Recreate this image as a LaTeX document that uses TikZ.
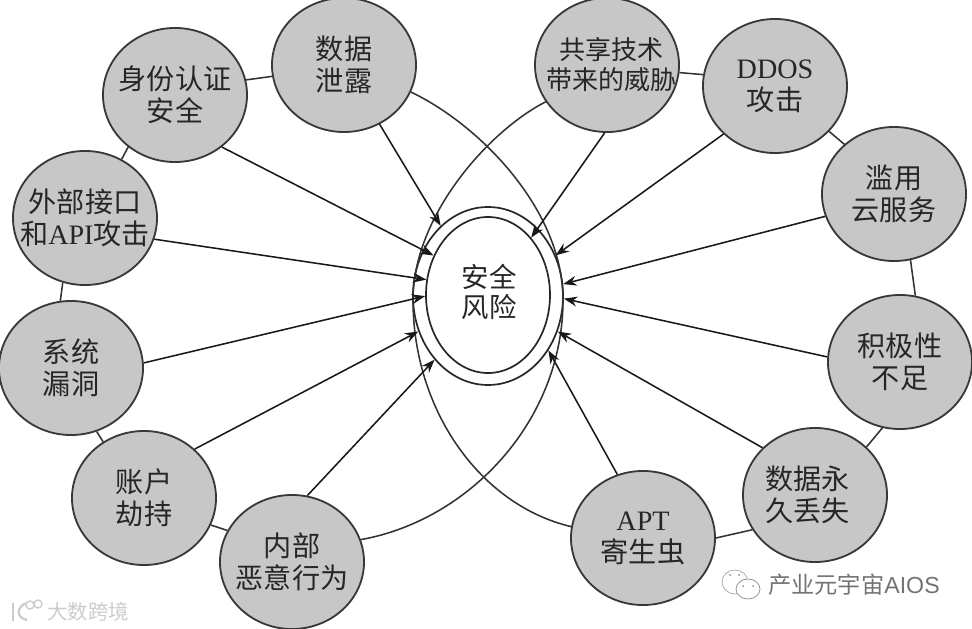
\documentclass[tikz,border=0pt]{standalone}
\usepackage{fontspec}
\newfontfamily\cjk{Noto Sans CJK SC}
\newfontfamily\latinfont{Liberation Serif}
\newfontfamily\markfont{Liberation Sans}
\usetikzlibrary{shapes.geometric,arrows.meta}

\begin{document}
\begin{tikzpicture}[
  x=0.025cm, y=-0.025cm,
  every node/.style={inner sep=0pt},
  % the negative inner sep keeps the long labels from blowing the ellipse up
  bubble/.style={ellipse, draw=black!78, fill=black!22, line width=1.3pt,
    inner sep=-18pt, minimum width=3.6cm, minimum height=3.35cm,
    align=center, text=black!85, font=\cjk\fontsize{20}{22.8}\selectfont},
  ring/.style 2 args={ellipse, draw=black!85, line width=1.2pt,
    minimum width=#1*0.025cm, minimum height=#2*0.025cm},
  label/.style={align=center, text=black!85, font=\cjk\fontsize{19.5}{21.5}\selectfont},
  link/.style={draw=black!80, line width=1.1pt},
  arrow/.style={draw=black!90, line width=1.1pt, -{Stealth[length=9.5pt,width=7pt]}},
  markleft/.style={text=black!20, font=\cjk\fontsize{14.5}{16}\selectfont},
  markright/.style={text=black!55, font=\cjk\fontsize{16.5}{17}\selectfont}]

  \useasboundingbox (0,0) rectangle (972,629);

  % ---- the two rings in the middle -----------------------------------------
  \node[ring={124}{156}] (risk) at (488,295) {};
  \node[ring={150}{178}] (riskouter) at (488,296) {};
  \node[label] (risklabel) at (489,292) {安全\\风险};

  % ---- the twelve threats, clockwise from the top right --------------------
  \node[bubble, font=\cjk\fontsize{18.5}{21.3}\selectfont] (share) at (607,65)
    {\hspace*{6pt}共享技术\\\hspace*{6pt}带来的威胁};
  \node[bubble] (ddos) at (775,86) {{\latinfont DDOS}\\攻击};
  \node[bubble] (abuse) at (894,194) {滥用\\云服务};
  \node[bubble] (lazy) at (900,362) {积极性\\不足};
  \node[bubble] (loss) at (815,495) {数据永\hspace*{11pt}\\久丢失\hspace*{11pt}};
  \node[bubble] (apt) at (643,538) {{\latinfont APT}\\寄生虫};
  \node[bubble] (inner) at (292,562) {内部\\恶意行为};
  \node[bubble] (hijack) at (144,498) {账户\\劫持};
  \node[bubble] (vuln) at (71,368) {系统\\漏洞};
  \node[bubble] (api) at (85,218) {外部接口\\和{\latinfont API}攻击};
  \node[bubble] (auth) at (175,95) {身份认证\\安全};
  \node[bubble] (leak) at (344,65) {数据\\泄露};

  % ---- the short links of the outer ring ------------------------------------
  \draw[link] (leak.189) -- (auth.12);
  \draw[link] (auth.-132) -- (api.58);
  \draw[link] (api.-109) -- (vuln.99);
  \draw[link] (vuln.-68) -- (hijack.126);
  \draw[link] (hijack.-22) -- (inner.154);
  \draw[link] (share.-6) -- (ddos.171);
  \draw[link] (ddos.-40) -- (abuse.135);
  \draw[link] (abuse.-76) -- (lazy.77);
  \draw[link] (lazy.-105) -- (loss.43);
  \draw[link] (loss.-151) -- (apt.0);

  % ---- the two long arcs that cross above and below the rings ---------------
  \coordinate (archright) at (563,300);
  \coordinate (archleft) at (413,300);
  \draw[link] (leak.-22) .. controls (480,125) and (563,210) .. (archright)
    .. controls (563,420) and (470,520) .. (inner.18);
  \draw[link] (share.-149) .. controls (490,130) and (413,215) .. (archleft)
    .. controls (413,410) and (480,505) .. (apt.171);

  % ---- arrows from every threat to the rings --------------------------------
  \draw[arrow] (leak.-59) -- (riskouter.124);
  \draw[arrow] (auth.-48) -- (risk.144);
  \draw[arrow] (api.-17) -- (risk.166);
  \draw[arrow] (vuln.4) -- (risk.181);
  \draw[arrow] (hijack.44) -- (riskouter.207);
  \draw[arrow] (inner.77) -- (riskouter.230);
  \draw[arrow] (share.-92) -- (risk.53);
  \draw[arrow] (ddos.-137) -- (riskouter.31);
  \draw[arrow] (abuse.-162) -- (riskouter.9);
  \draw[arrow] (lazy.176) -- (riskouter.-2);
  \draw[arrow] (loss.138) -- (riskouter.-27);
  \draw[arrow] (apt.112) -- (riskouter.-42);

  % ---- the two marks in the bottom corners ----------------------------------
  \node[markleft, anchor=west] (markk) at (47,612) {大数跨境};
  \draw[black!20, line width=1.6pt] (13,603) -- (13,621);
  \draw[black!20, line width=1.6pt] (27,603) .. controls (16,606) and (16,618) .. (27,620);
  \draw[black!20, line width=1pt] (30,605) circle (4) (38,604) circle (4);
  \node[markright, anchor=west] (markaios) at (768,585) {产业元宇宙{\markfont AIOS}};
  \draw[black!35, line width=0.5pt, fill=white] (735,582) ellipse (13 and 12);
  \draw[black!45, line width=0.5pt, fill=white] (748,589) ellipse (12 and 10);
  \fill[black!45] (743,586) circle (1) (753,586) circle (1) (730,575) circle (1) (739,575) circle (1);
\end{tikzpicture}
\end{document}
